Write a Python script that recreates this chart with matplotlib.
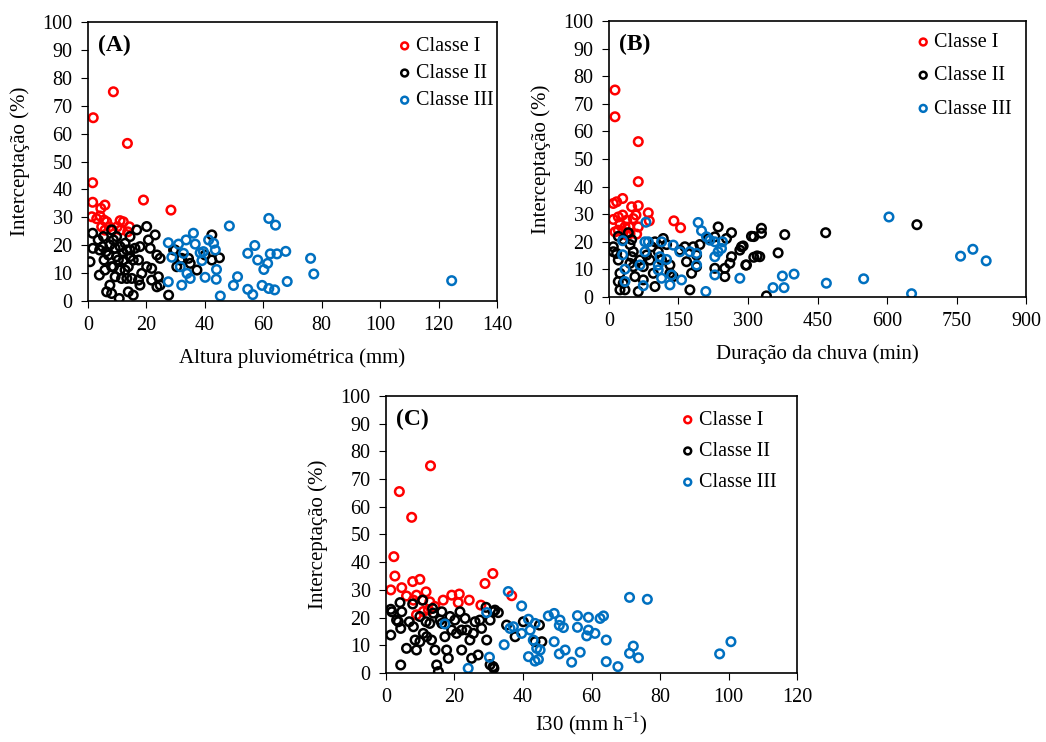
import matplotlib
matplotlib.use('Agg')
import matplotlib.pyplot as plt

plt.rcParams['font.family'] = ['Liberation Serif', 'DejaVu Serif']
plt.rcParams['mathtext.fontset'] = 'custom'
plt.rcParams['mathtext.rm'] = 'Liberation Serif'

# Panel A - Altura pluviometrica (mm) x Interceptacao (%)
a_c1_x = [1.8, 8.7, 13.5, 1.6, 1.6, 5.8, 4.4, 1.3, 4.1, 5.5, 6.4, 4.7, 5.8, 11.0, 12.1,
          11.2, 14.2, 19.0, 28.4, 3.0, 7.3, 8.5, 13.6, 10.0]
a_c1_y = [65.7, 75.0, 56.5, 42.4, 35.4, 34.4, 33.2, 30.2, 30.5, 29.0, 28.4, 26.6, 25.4, 28.8, 28.4,
          25.4, 26.6, 36.2, 32.6, 29.5, 26.6, 25.4, 24.8, 26.6]
a_c2_x = [1.6, 1.7, 0.7, 3.9, 3.5, 5.3, 5.0, 6.2, 5.5, 5.8, 6.4, 8.1, 7.5, 8.1, 8.7, 7.5, 9.3,
          9.8, 10.4, 8.7, 11.0, 9.3, 11.5, 10.7, 12.1, 12.7, 13.3, 14.4, 14.4, 13.8, 13.8, 15.0,
          15.5, 16.1, 16.7, 15.5, 17.3, 17.8, 18.4, 17.8, 20.1, 20.7, 21.3, 20.1, 21.8, 23.0,
          23.6, 24.7, 24.1, 24.7, 27.6, 29.8, 30.4, 31.6, 34.4, 35.0, 37.3, 42.4, 42.4, 45.0,
          23.6, 21.8, 4.0, 7.0, 11.0, 12.1, 9.8, 14.4, 8.1, 12.7, 13.3, 17.3, 40.1, 32.1, 29.3]
a_c2_y = [24.3, 18.9, 14.1, 9.3, 21.9, 23.1, 19.5, 17.7, 14.7, 11.1, 3.3, 2.7, 5.7, 25.5, 21.9,
          20.1, 18.9, 15.9, 14.7, 12.3, 11.1, 8.7, 8.1, 0.9, 14.7, 20.7, 18.3, 23.1, 15.9, 12.3,
          3.3, 8.1, 14.7, 18.9, 25.5, 2.1, 14.7, 19.5, 9.9, 5.7, 26.7, 21.9, 18.9, 12.3, 11.7,
          23.7, 16.5, 15.3, 8.7, 5.7, 2.1, 18.3, 12.3, 14.7, 15.3, 13.5, 11.1, 23.7, 14.7, 15.5,
          5.1, 7.5, 18.3, 16.5, 19.5, 17.1, 23.1, 18.3, 12.3, 11.1, 8.1, 7.5, 16.5, 15.3, 18.3]
a_c3_x = [27.5, 31.0, 33.6, 36.1, 36.7, 32.7, 28.7, 38.4, 39.5, 41.3, 43.0, 43.6, 39.0, 31.6,
          33.9, 35.0, 32.1, 27.5, 40.1, 44.0, 43.9, 48.4, 45.3, 51.2, 49.8, 54.7, 57.1, 58.1,
          60.2, 61.5, 62.4, 64.7, 67.7, 61.9, 64.2, 59.6, 61.9, 63.9, 54.7, 56.4, 68.2, 76.2,
          77.3, 124.5]
a_c3_y = [20.9, 20.4, 21.9, 24.3, 20.4, 17.1, 15.7, 17.3, 17.7, 21.9, 20.7, 18.3, 14.5, 12.3,
          9.9, 8.1, 5.7, 6.9, 8.5, 11.3, 7.8, 26.9, 1.8, 8.7, 5.6, 17.1, 19.9, 14.7,
          11.3, 13.5, 16.9, 16.9, 17.8, 29.6, 27.2, 5.6, 4.5, 4.0, 4.2, 2.3, 7.0, 15.3,
          9.7, 7.3]

# Panel B - Duracao da chuva (min) x Interceptacao (%)
b_c1_x = [12.9, 12.9, 63.2, 63.2, 9.3, 16.5, 29.5, 48.9, 63.2, 58.2, 84.8, 87.0, 140.0, 154.5,
          9.3, 20.1, 29.5, 38.1, 23.7, 12.9, 34.5, 43.9, 63.2, 45.3, 59.7, 30.8, 20.1, 38.1, 52.4]
b_c1_y = [75.0, 65.3, 56.3, 41.8, 33.9, 34.5, 35.7, 32.7, 33.1, 29.7, 30.5, 27.6, 27.6, 25.1,
          28.1, 29.0, 29.7, 27.8, 26.6, 23.6, 25.4, 25.4, 25.4, 23.0, 22.8, 23.6, 24.2, 22.4, 28.4]
b_c2_x = [9.3, 9.3, 20.1, 30.8, 48.9, 45.3, 52.4, 48.9, 45.3, 52.4, 20.1, 23.7, 20.1, 23.7, 34.5,
          30.8, 56.0, 63.2, 74.0, 81.2, 92.0, 99.2, 106.3, 117.1, 113.5, 95.6, 99.2, 124.3, 131.5,
          138.7, 153.0, 163.8, 167.4, 174.6, 181.8, 189.0, 196.1, 189.0, 178.2, 214.0, 228.4,
          235.6, 253.6, 264.4, 228.4, 250.0, 250.0, 264.4, 260.8, 282.4, 286.0, 296.7, 307.5,
          74.0, 88.4, 66.8, 131.5, 16.5, 41.7, 289.5, 295.2, 312.5, 312.5, 319.8, 325.4, 329.0,
          329.0, 339.8, 365.0, 379.3, 467.6, 664.5]
b_c2_y = [18.2, 16.4, 22.0, 20.8, 20.8, 19.0, 16.4, 14.6, 12.2, 11.0, 13.4, 8.6, 5.6, 2.6, 2.6,
          5.0, 7.4, 2.0, 11.0, 15.2, 18.2, 20.0, 16.4, 21.2, 13.4, 8.6, 3.8, 19.0, 11.6,
          7.4, 17.0, 18.2, 12.8, 2.6, 18.2, 15.2, 19.0, 11.0, 8.6, 21.2, 21.8,
          25.4, 21.2, 23.3, 10.4, 10.4, 7.4, 14.6, 12.2, 17.0, 18.2, 11.6, 22.0,
          6.2, 13.4, 13.4, 8.6, 15.8, 23.3, 18.5, 11.6, 21.9, 14.4, 14.9, 14.6, 24.9,
          23.1, 0.4, 16.0, 22.6, 23.3, 26.2]
b_c3_x = [79.7, 29.5, 29.5, 34.5, 34.5, 74.0, 66.8, 77.6, 77.6, 84.8, 113.5, 106.3, 106.3, 113.5,
          131.5, 135.1, 138.7, 153.0, 156.6, 174.6, 189.0, 192.5, 199.7, 210.5, 217.7, 228.4,
          228.4, 235.6, 242.8, 245.0, 189.0, 228.4, 282.4, 209.0, 124.3, 109.9, 354.0, 374.2,
          377.8, 399.4, 469.1, 549.6, 604.2, 653.0, 758.7, 785.3, 814.0]
b_c3_y = [27.1, 20.4, 15.3, 10.1, 5.6, 4.1, 11.6, 16.4, 20.0, 20.0, 20.0, 11.6, 9.8, 6.8,
          4.4, 8.0, 18.8, 16.4, 6.2, 16.4, 15.8, 27.0, 24.0, 21.8, 20.6, 20.0,
          14.6, 16.4, 17.6, 20.0, 11.6, 8.0, 6.8, 2.0, 13.6, 14.6, 3.4, 7.6,
          3.4, 8.3, 5.0, 6.6, 29.0, 1.2, 14.8, 17.3, 13.1]

# Panel C - I30 (mm h-1) x Interceptacao (%)
c_c1_x = [13.0, 3.9, 7.5, 2.3, 2.6, 1.4, 4.6, 7.8, 9.9, 6.0, 8.0, 8.9, 11.7, 10.7, 12.8, 8.9,
          10.9, 12.4, 14.3, 16.7, 19.2, 21.4, 21.1, 24.3, 27.7, 28.9, 31.2, 36.7]
c_c1_y = [74.8, 65.5, 56.2, 42.0, 35.0, 30.0, 30.8, 33.0, 33.8, 27.8, 26.3, 28.1, 29.3, 26.3,
          25.7, 21.0, 22.2, 22.8, 24.0, 26.3, 28.1, 28.5, 25.4, 26.3, 24.5, 32.3, 35.9, 27.9]
c_c2_x = [1.4, 1.7, 4.1, 4.6, 3.6, 3.1, 4.3, 1.4, 6.0, 4.3, 6.8, 7.8, 8.0, 8.5, 8.9, 9.9, 10.7,
          10.9, 11.7, 11.9, 12.8, 13.3, 13.6, 13.8, 14.3, 14.8, 15.3, 16.3, 16.3, 17.2, 17.7,
          18.2, 19.2, 20.1, 20.6, 21.6, 22.1, 22.1, 23.1, 23.6, 24.5, 25.5, 26.0, 25.0, 26.9,
          27.4, 27.9, 29.2, 29.4, 30.4, 31.3, 31.3, 31.8, 32.8, 35.2, 37.7, 40.1, 43.5, 44.8,
          45.5, 9.9, 15.8, 18.7, 31.5, 30.4]
c_c2_y = [23.0, 22.1, 25.4, 22.1, 18.5, 19.1, 16.1, 13.7, 8.9, 2.9, 18.5, 24.9, 16.7, 11.9, 8.3,
          11.3, 26.3, 14.3, 18.5, 13.1, 17.9, 11.9, 23.3, 21.6, 8.3, 2.9, 0.5, 22.1, 17.9, 13.1,
          8.3, 5.3, 15.5, 19.1, 14.3, 22.1, 15.5, 8.3, 19.7, 15.5, 11.9, 14.3, 18.5, 5.3, 6.5,
          19.1, 16.1, 23.7, 11.9, 19.1, 22.1, 2.3, 22.7, 21.8, 17.3, 13.1, 18.5, 11.3, 17.3,
          11.3, 20.4, 19.1, 20.4, 1.7, 3.0]
c_c3_x = [29.4, 30.2, 34.5, 35.7, 36.2, 37.2, 39.6, 41.6, 42.1, 39.6, 43.5, 43.0, 44.0, 45.0,
          41.6, 43.5, 44.5, 47.4, 49.1, 50.8, 50.6, 51.8, 49.1, 50.6, 52.3, 54.2, 56.7, 55.9,
          55.9, 59.1, 59.1, 58.6, 61.0, 62.5, 63.5, 64.3, 64.3, 67.7, 71.1, 76.3, 72.2, 71.1,
          73.7, 97.4, 100.7, 17.2, 24.0]
c_c3_y = [21.8, 5.7, 10.2, 29.4, 16.1, 16.7, 24.2, 19.4, 15.5, 14.3, 17.9, 11.9, 8.9, 8.3,
          5.9, 4.3, 4.9, 20.6, 21.5, 19.1, 17.2, 16.4, 11.3, 6.9, 8.3, 3.9, 7.5, 20.7,
          16.5, 20.1, 15.5, 13.4, 14.3, 19.7, 20.6, 11.9, 4.1, 2.3, 27.3, 26.6, 9.7, 7.1,
          5.5, 6.9, 11.3, 17.7, 1.7]

labels = ['Classe I', 'Classe II', 'Classe III']
colors = ['#FF0000', '#000000', '#0070C0']


def panel(ax, xs, ys, xmax, xstep, xlabel, tag, leg_anchor, leg_space, xpad=9):
    for x, y, lab, col in zip(xs, ys, labels, colors):
        ax.scatter(x, y, s=38, facecolors='none', edgecolors=col, linewidths=1.8, label=lab)
    ax.set_xlim(0, xmax)
    ax.set_ylim(0, 100)
    ax.set_xticks(range(0, xmax + 1, xstep))
    ax.set_yticks(range(0, 101, 10))
    ax.tick_params(direction='out', length=5, labelsize=14.5, pad=6)
    for sp in ax.spines.values():
        sp.set_linewidth(1.2)
    ax.set_xlabel(xlabel, fontsize=15, labelpad=xpad)
    ax.set_ylabel('Interceptação (%)', fontsize=15, labelpad=9)
    ax.text(0.025, 0.955, tag, transform=ax.transAxes, fontsize=17, fontweight='bold',
            va='top', ha='left')
    ax.legend(loc='upper left', bbox_to_anchor=leg_anchor, frameon=False, fontsize=14.5,
              handletextpad=0.05, handlelength=1.0, labelspacing=leg_space, borderaxespad=0,
              markerscale=0.8)


fig = plt.figure(figsize=(10.46, 7.42), dpi=100)
ax_a = fig.add_axes([0.0841, 0.5943, 0.391, 0.376])
ax_b = fig.add_axes([0.5822, 0.5997, 0.3987, 0.372])
ax_c = fig.add_axes([0.369, 0.0930, 0.393, 0.3733])

panel(ax_a, [a_c1_x, a_c2_x, a_c3_x], [a_c1_y, a_c2_y, a_c3_y], 140, 20,
      'Altura pluviométrica (mm)', '(A)', (0.73, 0.975), 0.4)
panel(ax_b, [b_c1_x, b_c2_x, b_c3_x], [b_c1_y, b_c2_y, b_c3_y], 900, 150,
      'Duração da chuva (min)', '(B)', (0.71, 0.985), 0.7)
panel(ax_c, [c_c1_x, c_c2_x, c_c3_x], [c_c1_y, c_c2_y, c_c3_y], 120, 20,
      'I30 (mm h$^{\\mathrm{-1}}$)', '(C)', (0.69, 0.975), 0.6, xpad=2)

fig.savefig('out.png', dpi=100)
